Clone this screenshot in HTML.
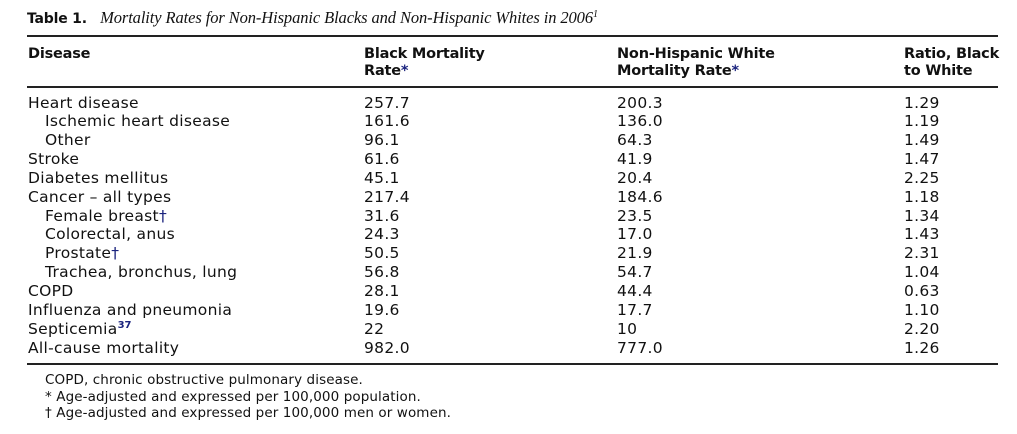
<!DOCTYPE html>
<html><head><meta charset="utf-8"><style>
body{margin:0;width:1017px;height:434px;background:#fff;position:relative;font-family:"DejaVu Sans","Liberation Sans",sans-serif;color:#111;overflow:hidden}
.t{position:absolute;font-size:14.5px;line-height:17px;white-space:nowrap;letter-spacing:-0.2px}
.d{font-size:15.5px;letter-spacing:0.3px}
.f{font-size:13.5px;letter-spacing:0.1px}
.b{font-weight:bold}
.r{position:absolute;left:27px;width:971px;background:#222}
.s{color:#1a237e}
.sp{position:relative;top:-6px;font-size:10px;font-weight:bold;line-height:0;letter-spacing:0}
</style></head><body>
<div class="t" style="left:27px;top:9px"><span class="b" style="font-size:14px">Table 1.</span>&nbsp;&nbsp;&nbsp;<i style="font-family:'Liberation Serif',serif;font-size:16.5px;letter-spacing:-0.1px">Mortality Rates for Non-Hispanic Blacks and Non-Hispanic Whites in 2006<span class="sp" style="font-weight:normal">1</span></i></div>
<div class="r" style="top:35px;height:2px"></div>
<div class="t b" style="left:28px;top:46px">Disease</div>
<div class="t b" style="left:364px;top:46px">Black Mortality<br>Rate<span class="s">*</span></div>
<div class="t b" style="left:617px;top:46px">Non-Hispanic White<br>Mortality Rate<span class="s">*</span></div>
<div class="t b" style="left:904px;top:46px">Ratio, Black<br>to White</div>
<div class="r" style="top:86px;height:2px"></div>
<div id="rows"></div>
<div class="r" style="top:363px;height:2px"></div>
<div class="t f" style="left:45px;top:372px">COPD, chronic obstructive pulmonary disease.</div>
<div class="t f" style="left:45px;top:388.5px">* Age-adjusted and expressed per 100,000 population.</div>
<div class="t f" style="left:45px;top:405px">† Age-adjusted and expressed per 100,000 men or women.</div>
<script>
var d=[["Heart disease",0,"257.7","200.3","1.29"],["Ischemic heart disease",1,"161.6","136.0","1.19"],["Other",1,"96.1","64.3","1.49"],["Stroke",0,"61.6","41.9","1.47"],["Diabetes mellitus",0,"45.1","20.4","2.25"],["Cancer – all types",0,"217.4","184.6","1.18"],["Female breast<span class=s>†</span>",1,"31.6","23.5","1.34"],["Colorectal, anus",1,"24.3","17.0","1.43"],["Prostate<span class=s>†</span>",1,"50.5","21.9","2.31"],["Trachea, bronchus, lung",1,"56.8","54.7","1.04"],["COPD",0,"28.1","44.4","0.63"],["Influenza and pneumonia",0,"19.6","17.7","1.10"],["Septicemia<span class='s sp'>37</span>",0,"22","10","2.20"],["All-cause mortality",0,"982.0","777.0","1.26"]];
var h="";d.forEach(function(r,i){var y=94.5+i*18.85;h+='<div class="t d" style="left:'+(r[1]?45:28)+'px;top:'+y+'px">'+r[0]+'</div><div class="t d" style="left:364px;top:'+y+'px">'+r[2]+'</div><div class="t d" style="left:617px;top:'+y+'px">'+r[3]+'</div><div class="t d" style="left:904px;top:'+y+'px">'+r[4]+'</div>';});
document.getElementById("rows").innerHTML=h;
</script>
</body></html>
